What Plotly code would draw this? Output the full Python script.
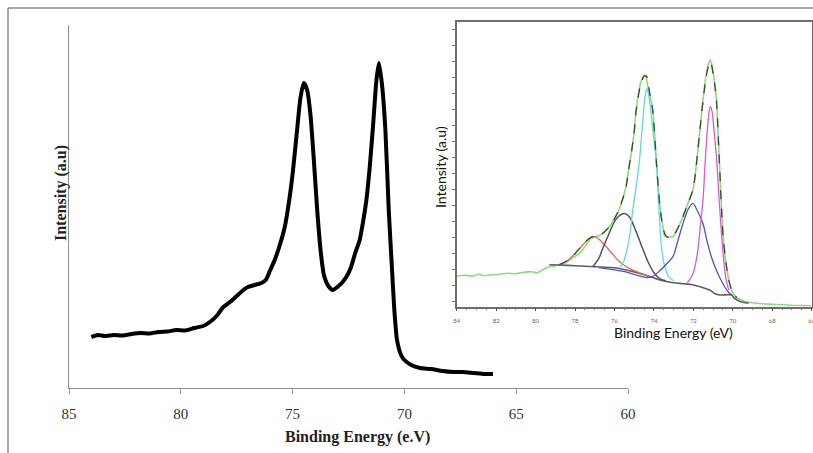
import plotly.graph_objects as go

W, H = 813, 453

# ---------------- main spectrum (black trace) ----------------
main_be = [84.0, 83.7, 83.4, 83.0, 82.6, 82.2, 81.8, 81.4, 81.0, 80.6, 80.2, 79.8,
           79.4, 79.0, 78.7, 78.4, 78.1, 77.8, 77.5, 77.2, 77.0, 76.7, 76.4, 76.2,
           76.0, 75.8, 75.6, 75.35, 75.15, 74.98, 74.8, 74.65, 74.5, 74.35, 74.2,
           74.05, 73.9, 73.75, 73.6, 73.4, 73.2, 73.0, 72.8, 72.6, 72.4, 72.2, 72.0,
           71.85, 71.7, 71.55, 71.4, 71.25, 71.14, 71.0, 70.85, 70.7, 70.56, 70.45,
           70.33, 70.15, 70.0, 69.7, 69.3, 68.8, 68.3, 67.8, 67.4, 66.9, 66.4, 66.04]
main_int = [51, 53, 52, 53, 52.5, 54, 55, 54.5, 56, 56.5, 58, 57.5,
            60, 62, 66, 72, 81, 86, 92, 98, 101, 103, 105, 108,
            118, 128, 141, 161, 188, 218, 258, 290, 305, 298, 273,
            228, 178, 138, 113, 102, 98, 101, 105, 111, 120, 135, 148,
            166, 188, 221, 263, 308, 325, 303, 258, 178, 121, 78,
            48, 33, 28, 23, 20, 19, 17, 16, 16, 15, 14, 14]
main_ticks = [85, 80, 75, 70, 65, 60]

# ---------------- inset: peak-fitted spectrum ----------------
raw_be = [84.0, 83.6, 83.2, 82.9, 82.6, 82.2, 81.8, 81.4, 81.0, 80.6, 80.2, 79.9,
          79.6, 79.3, 79.0, 78.7, 78.4, 78.1, 77.8, 77.5, 77.2, 77.0, 76.77, 76.5,
          76.26, 76.0, 75.75, 75.55, 75.41, 75.3, 75.15, 75.0, 74.9, 74.7, 74.55,
          74.48, 74.4, 74.25, 74.06, 73.88, 73.71, 73.55, 73.46, 73.3, 73.12, 73.04,
          72.8, 72.53, 72.3, 72.02, 71.9, 71.77, 71.65, 71.51, 71.35, 71.2, 71.14,
          71.05, 70.93, 70.83, 70.67, 70.5, 70.32, 70.16, 70.0, 69.8, 69.5, 69.0,
          68.5, 68.0, 67.5, 67.0, 66.0]
raw_int = [30.7, 31.5, 30.5, 32.5, 31, 32, 32.5, 33.5, 33, 34.5, 35, 34,
           37.5, 40, 41, 42.5, 45, 49, 53, 60, 68, 70, 71, 75,
           80, 88, 98, 110, 120, 135, 153, 175, 197, 222, 230,
           232, 229, 215, 197, 147, 103, 80, 71, 69, 70, 70,
           78, 90, 102, 117, 133, 157, 180, 207, 232, 245, 247,
           240, 225, 207, 140, 73, 40, 23, 14, 9, 6, 4,
           3, 2.5, 2, 1.5, 1]

env_be = [78.8, 78.4, 78.0, 77.6, 77.3, 77.1, 76.77, 76.5, 76.26, 76.0, 75.75, 75.55,
          75.41, 75.3, 75.15, 75.0, 74.9, 74.7, 74.55, 74.45, 74.36, 74.25, 74.06,
          73.88, 73.71, 73.55, 73.4, 73.2, 73.04, 72.8, 72.53, 72.3, 72.02, 71.9,
          71.77, 71.65, 71.51, 71.35, 71.2, 71.12, 71.05, 70.93, 70.83, 70.67, 70.5,
          70.32, 70.16, 70.0, 69.8]
env_int = [42, 46, 53, 62, 68, 70, 71, 75, 80, 88, 98, 110,
           120, 135, 153, 175, 196, 220, 229, 231, 230, 218, 196,
           146, 103, 80, 71, 69, 70, 78, 90, 102, 117, 133,
           157, 180, 206, 230, 243, 245, 239, 224, 206, 140, 73,
           40, 23, 14, 9]

bg_be = [79.3, 78.8, 78.0, 77.0, 76.0, 75.4, 74.5, 73.7, 73.0, 72.5, 72.0, 71.5,
         71.17, 70.9, 70.66, 70.07, 69.9, 69.6, 69.2]
bg_int = [42, 41.7, 41, 40, 39, 36.7, 32, 26.7, 24, 23, 21.7, 19,
          16.7, 13, 11.7, 11.7, 8, 5, 3.5]

red_be = [78.8, 78.4, 78.0, 77.6, 77.3, 77.1, 76.9, 76.6, 76.2, 75.8, 75.4, 75.0, 74.6, 74.2]
red_int = [42, 46, 53, 62, 68, 70, 69, 64, 55, 46, 40, 36, 33, 30]

dark_be = [77.1, 76.8, 76.6, 76.3, 76.0, 75.75, 75.5, 75.25, 75.0, 74.8, 74.57,
           74.3, 74.0, 73.7, 73.4]
dark_int = [40, 48, 58, 72, 85, 91, 93.3, 90, 80, 70, 58, 45, 34, 28, 26]

cyan_be = [75.7, 75.5, 75.33, 75.2, 75.07, 74.9, 74.73, 74.55, 74.45, 74.36, 74.25,
           74.1, 73.88, 73.75, 73.63, 73.45, 73.25, 73.0]
cyan_int = [40, 47, 60, 75, 97, 120, 147, 190, 210, 218, 210, 185, 145, 100, 62,
            40, 30, 26]

blue_be = [76.8, 75.5, 74.3, 74.0, 73.7, 73.4, 73.04, 72.8, 72.5, 72.25, 72.02, 71.8,
           71.51, 71.3, 71.09, 70.8, 70.5, 70.2, 70.05]
blue_int = [39, 35, 29, 31, 36, 42, 50, 65, 85, 98, 103.3, 96, 83, 65, 50, 35, 23,
            14, 12]

mag_be = [72.3, 72.02, 71.9, 71.77, 71.65, 71.51, 71.4, 71.3, 71.2, 71.14, 71.05,
          70.95, 70.83, 70.67, 70.5, 70.35, 70.2]
mag_int = [24, 33, 42, 57, 80, 107, 145, 175, 195, 200, 195, 175, 150, 100, 55, 28, 16]

inset_ticks = [84, 82, 80, 78, 76, 74, 72, 70, 68, 66]


def px_x(p):
    return p / W


def px_y(p):
    return 1 - p / H


fig = go.Figure()

# main spectrum
fig.add_trace(go.Scatter(x=main_be, y=main_int, mode="lines",
                         line=dict(color="black", width=4, shape="spline", smoothing=0.6),
                         xaxis="x", yaxis="y", showlegend=False))

# inset traces: raw data, background, components, envelope
fig.add_trace(go.Scatter(x=raw_be, y=raw_int, mode="lines",
                         line=dict(color="#86e07a", width=1.6, shape="spline", smoothing=0.5),
                         xaxis="x2", yaxis="y2", showlegend=False))
comp_style = [
    (bg_be, bg_int, "#5e5e5e", 1.6),
    (red_be, red_int, "#e2685e", 1.3),
    (dark_be, dark_int, "#5a4f5f", 1.5),
    (cyan_be, cyan_int, "#5fd9df", 1.3),
    (blue_be, blue_int, "#4a52c4", 1.3),
    (mag_be, mag_int, "#e056d8", 1.3),
]
for bx, by, col, wd in comp_style:
    fig.add_trace(go.Scatter(x=bx, y=by, mode="lines",
                             line=dict(color=col, width=wd, shape="spline", smoothing=0.8),
                             xaxis="x2", yaxis="y2", showlegend=False))
fig.add_trace(go.Scatter(x=env_be, y=env_int, mode="lines",
                         line=dict(color="#3c4a2c", width=1.3, dash="dash", shape="spline", smoothing=0.8),
                         xaxis="x2", yaxis="y2", showlegend=False))

serif = "Liberation Serif"
sans = "Lato"

fig.update_layout(
    width=W, height=H, autosize=False,
    margin=dict(l=0, r=0, t=0, b=0, pad=0),
    paper_bgcolor="white", plot_bgcolor="rgba(0,0,0,0)",
    xaxis=dict(domain=[px_x(69), px_x(628)], range=[85, 60], tickmode="array",
               tickvals=main_ticks, ticktext=[str(v) for v in main_ticks],
               showline=True, linecolor="#8c8c8c", linewidth=1,
               ticks="outside", ticklen=5, tickcolor="#9a9a9a", tickwidth=1,
               ticklabelstandoff=7,
               tickfont=dict(family=serif, size=15, color="#333333"),
               showgrid=False, zeroline=False, anchor="y", automargin=False),
    yaxis=dict(domain=[px_y(388), px_y(25)], range=[0, 363],
               showline=True, linecolor="#8c8c8c", linewidth=1,
               showticklabels=False, ticks="", showgrid=False, zeroline=False,
               anchor="x", automargin=False),
    xaxis2=dict(domain=[px_x(456.7), px_x(811.7)], range=[84, 66], tickmode="array",
                tickvals=inset_ticks, ticktext=[str(v) for v in inset_ticks],
                showline=True, mirror=True, linecolor="#6e6e6e", linewidth=1.5,
                ticks="outside", ticklen=3, tickcolor="#555555",
                minor=dict(dtick=0.5, tick0=66, ticks="outside", ticklen=2, tickcolor="#777777"),
                ticklabelstandoff=4, ticklabeloverflow="allow",
                tickfont=dict(family=sans, size=6, color="#666666"),
                showgrid=False, zeroline=False, anchor="y2", automargin=False),
    yaxis2=dict(domain=[px_y(306.7), px_y(21.7)], range=[0, 285],
                showline=True, mirror=True, linecolor="#6e6e6e", linewidth=1.5,
                tickmode="linear", tick0=5, dtick=16,
                ticks="outside", ticklen=3, tickcolor="#777777",
                showticklabels=False, showgrid=False, zeroline=False,
                anchor="x2", automargin=False),
    shapes=[
        dict(type="line", xref="paper", yref="paper", x0=px_x(8), x1=1, y0=px_y(8), y1=px_y(8),
             line=dict(color="#8a8a8a", width=1.5)),
        dict(type="line", xref="paper", yref="paper", x0=px_x(8), x1=px_x(8), y0=0, y1=px_y(8),
             line=dict(color="#8a8a8a", width=1.5)),
    ],
    annotations=[
        dict(text="<b>Binding Energy (e.V)</b>", xref="paper", yref="paper",
             x=px_x(357), y=px_y(437), showarrow=False, xanchor="center", yanchor="middle",
             font=dict(family=serif, size=16, color="#222222")),
        dict(text="<b>Intensity (a.u)</b>", xref="paper", yref="paper",
             x=px_x(61), y=px_y(193), showarrow=False, xanchor="center", yanchor="middle",
             textangle=-90, font=dict(family=serif, size=16, color="#222222")),
        dict(text="Binding Energy (eV)", xref="paper", yref="paper",
             x=px_x(673), y=px_y(332), showarrow=False, xanchor="center", yanchor="middle",
             font=dict(family=sans, size=14, color="#111111")),
        dict(text="Intensity (a.u)", xref="paper", yref="paper",
             x=px_x(440), y=px_y(167), showarrow=False, xanchor="center", yanchor="middle",
             textangle=-90, font=dict(family=sans, size=14, color="#111111")),
    ],
)

fig.write_html("out.html", config={"responsive": False})
